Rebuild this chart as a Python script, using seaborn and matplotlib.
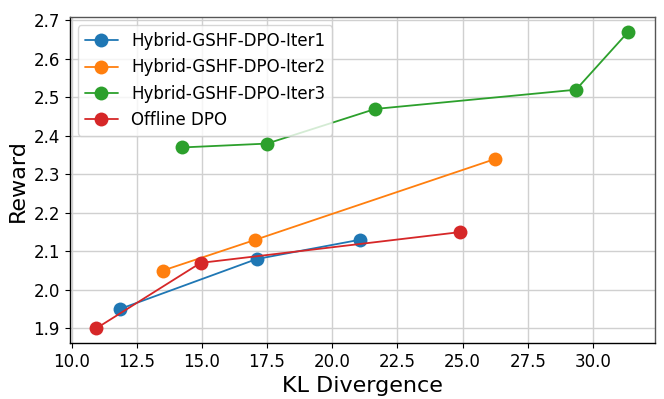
import pandas as pd
import numpy as np
import matplotlib
matplotlib.use('Agg')
import matplotlib.pyplot as plt
import seaborn as sns

# data
iter1_kl = [11.85, 17.1, 21.05]
iter1_reward = [1.95, 2.08, 2.13]

iter2_kl = [13.5, 17.05, 26.25]
iter2_reward = [2.05, 2.13, 2.34]

iter3_kl = [14.25, 17.5, 21.65, 29.35, 31.35]
iter3_reward = [2.37, 2.38, 2.47, 2.52, 2.67]

offline_kl = [10.95, 14.95, 24.9]
offline_reward = [1.90, 2.07, 2.15]

series_names = ['Hybrid-GSHF-DPO-Iter1', 'Hybrid-GSHF-DPO-Iter2',
                'Hybrid-GSHF-DPO-Iter3', 'Offline DPO']
series_kl = [iter1_kl, iter2_kl, iter3_kl, offline_kl]
series_reward = [iter1_reward, iter2_reward, iter3_reward, offline_reward]

rows = []
for name, kls, rws in zip(series_names, series_kl, series_reward):
    for k, r in zip(kls, rws):
        rows.append({'Method': name, 'KL': k, 'Reward': r})
df = pd.DataFrame(rows)

sns.set_style('whitegrid')
plt.rcParams['font.family'] = ['DejaVu Sans']
plt.rcParams['text.color'] = 'black'
plt.rcParams['axes.labelcolor'] = 'black'
plt.rcParams['xtick.color'] = 'black'
plt.rcParams['ytick.color'] = 'black'

fig, ax = plt.subplots(figsize=(6.64, 3.99), dpi=100)
palette = ['#1f77b4', '#ff7f0e', '#2ca02c', '#d62728']

sns.lineplot(data=df, x='KL', y='Reward', hue='Method', hue_order=series_names,
             palette=palette, marker='o', markersize=10, markeredgewidth=0,
             linewidth=1.3, sort=False, estimator=None, ax=ax)

ax.set_xlabel('KL Divergence', fontsize=16)
ax.set_ylabel('Reward', fontsize=16)
ax.tick_params(axis='both', labelsize=12, length=3.5, color='black',
               bottom=True, left=True, direction='out')
ax.set_xticks(np.arange(10, 31, 2.5))
ax.set_yticks(np.arange(1.9, 2.71, 0.1))
ax.grid(True, color='#d0d0d0', linewidth=1.0)

for side in ['left', 'bottom']:
    ax.spines[side].set_color('black')
for side in ['top', 'right']:
    ax.spines[side].set_color('#555555')
for s in ax.spines.values():
    s.set_linewidth(1.0)

leg = ax.legend(loc='upper left', fontsize=12, frameon=True, handlelength=2.0)
leg.get_frame().set_edgecolor('#cccccc')
leg.get_frame().set_alpha(0.8)

plt.subplots_adjust(left=0.105, right=0.986, bottom=0.14, top=0.957)
plt.savefig('out.png', dpi=100)
plt.close()
